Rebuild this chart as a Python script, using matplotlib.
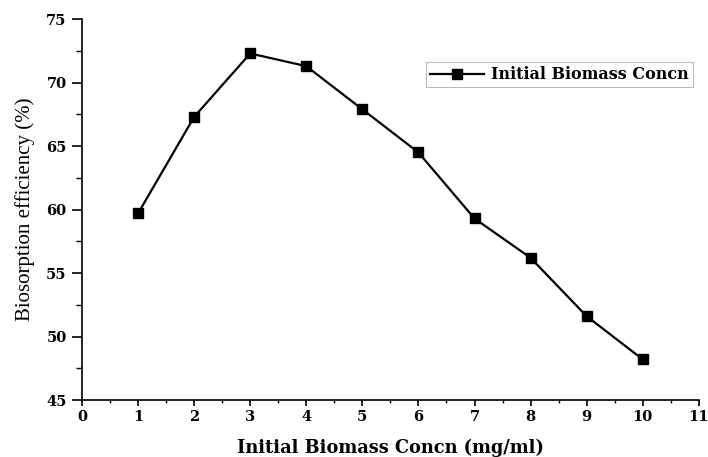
import matplotlib
matplotlib.use('Agg')
import matplotlib.pyplot as plt
from matplotlib.ticker import MultipleLocator

conc = [1, 2, 3, 4, 5, 6, 7, 8, 9, 10]
efficiency = [59.7, 67.3, 72.3, 71.3, 67.9, 64.5, 59.3, 56.2, 51.6, 48.2]
series_label = 'Initial Biomass Concn'

# the reference text is a wide bold serif
plt.rcParams['font.family'] = ['DejaVu Serif', 'Liberation Serif']
plt.rcParams['font.weight'] = 'bold'

fig = plt.figure(figsize=(7.08, 4.57), dpi=100)
ax = fig.add_axes([0.1158, 0.1247, 0.8712, 0.8333])

ax.plot(conc, efficiency, color='black', lw=1.6, marker='s', ms=6.5,
        label=series_label)

ax.set_xlim(0, 11)
ax.set_ylim(45, 75)
ax.xaxis.set_major_locator(MultipleLocator(1))
ax.xaxis.set_minor_locator(MultipleLocator(0.5))
ax.yaxis.set_major_locator(MultipleLocator(5))
ax.yaxis.set_minor_locator(MultipleLocator(2.5))

for s in ['top', 'right']:
    ax.spines[s].set_visible(False)
for s in ['left', 'bottom']:
    ax.spines[s].set_linewidth(1.2)
ax.tick_params(which='both', direction='out', labelsize=10.5)
ax.tick_params(axis='x', which='major', length=4.5, width=1.2, pad=3)
ax.tick_params(axis='x', which='minor', length=2.5, width=1.0)
ax.tick_params(axis='y', which='major', length=7, width=1.2, pad=4)
ax.tick_params(axis='y', which='minor', length=4, width=1.0)

ax.set_xlabel('Initial Biomass Concn (mg/ml)', fontsize=12.8, fontweight='bold', labelpad=10)
ax.set_ylabel('Biosorption efficiency (%)', fontsize=15, fontweight='normal',
              family=['Liberation Serif', 'DejaVu Serif'], labelpad=8)

leg = ax.legend(loc='upper right', bbox_to_anchor=(0.995, 0.895), fontsize=11.5,
                frameon=True, fancybox=False, handlelength=3.4, borderpad=0.25,
                handletextpad=0.4, borderaxespad=0.2)
leg.get_frame().set_edgecolor('#aaaaaa')
leg.get_frame().set_linewidth(0.8)

fig.savefig('out.png', dpi=100)
